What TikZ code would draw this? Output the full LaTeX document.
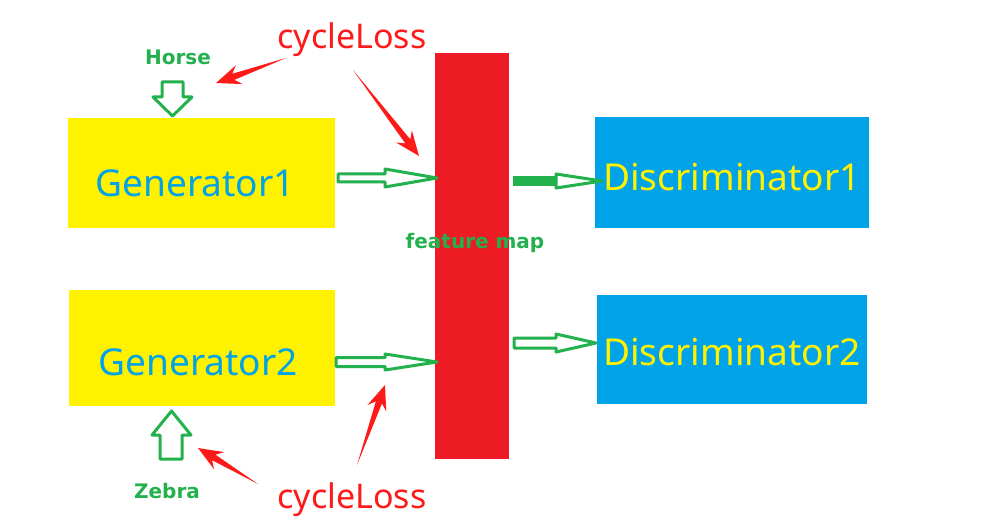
\documentclass[tikz,border=0pt]{standalone}
\usepackage{fontspec}
\setmainfont{Noto Sans}
\newfontfamily\labfont{DejaVu Sans}
\usetikzlibrary{calc}
\definecolor{pgreen}{HTML}{22B14C}
\definecolor{pyellow}{HTML}{FFF200}
\definecolor{pblue}{HTML}{00A2E8}
\definecolor{pred}{HTML}{ED1C24}
\definecolor{lred}{HTML}{FF1A1A}
\newcommand\redarrow[2]{\fill[lred] (#1) -- ($(#2)!14pt!10:(#1)$) -- ($(#2)!20pt!22:(#1)$) -- (#2) -- ($(#2)!20pt!-22:(#1)$) -- ($(#2)!14pt!-10:(#1)$) -- cycle;}
\newcommand\harrow[6]{\filldraw[garrow] (#1,#3-#5) -- (#4,#3-#5) -- (#4,#3-#6) -- (#2,#3) -- (#4,#3+#6) -- (#4,#3+#5) -- (#1,#3+#5) -- cycle;}
\tikzset{
  garrow/.style={draw=pgreen, fill=white, line width=2.25pt, line join=round},
  genbox/.style={fill=pyellow, draw=none, inner sep=0pt},
  disbox/.style={fill=pblue, draw=none, inner sep=0pt},
  gtext/.style={text=pblue, font=\fontsize{27.8}{32}\selectfont, inner sep=0pt},
  dtext/.style={text=pyellow, font=\fontsize{27.8}{32}\selectfont, inner sep=0pt},
  ltext/.style={text=pgreen, font=\labfont\bfseries\fontsize{15}{18}\selectfont, inner sep=0pt},
  ctext/.style={text=lred, font=\fontsize{25.5}{30}\selectfont, inner sep=0pt},
}
\begin{document}
\begin{tikzpicture}[x=0.75pt,y=-0.75pt]
\useasboundingbox (0,0) rectangle (983,528);
\fill[white] (0,0) rectangle (983,528);
% boxes
\node[genbox, minimum width={267*0.75pt}, minimum height={110*0.75pt}] (g1) at (201.5,173) {};
\node[genbox, minimum width={266*0.75pt}, minimum height={116*0.75pt}] (g2) at (202,348) {};
\node[disbox, minimum width={274*0.75pt}, minimum height={111*0.75pt}] (d1) at (732,172.5) {};
\node[disbox, minimum width={270*0.75pt}, minimum height={109*0.75pt}] (d2) at (732,349.5) {};
\node[fill=pred, inner sep=0pt, minimum width={74*0.75pt}, minimum height={406*0.75pt}] (bar) at (472,256) {};
% texts
\node[gtext] (g1t) at (195,183) {Generator1};
\node[gtext] (g2t) at (198,362) {Generator2};
\node[dtext] (d1t) at (732,177) {Discriminator1};
\node[dtext] (d2t) at (732,352) {Discriminator2};
\node[ltext] (fm) at (475,243) {feature map};
\node[ltext] (horse) at (178,57) {Horse};
\node[ltext] (zebra) at (167,491) {Zebra};
\node[ctext] (cl1) at (352,40) {cycleLoss};
\node[ctext] (cl2) at (352,500) {cycleLoss};
% green arrows
\harrow{338}{437}{178}{385}{4}{9}
\harrow{336}{437}{362}{385}{4.5}{8}
\harrow{514}{596}{343}{556}{5}{9}
\fill[pgreen] (513,176) rectangle (556,186);
\filldraw[garrow] (556,174) -- (602,181) -- (556,188) -- cycle;
\filldraw[garrow] (162,82) -- (183,82) -- (183,97) -- (192,97) -- (172.5,116) -- (153,97) -- (162,97) -- cycle;
\filldraw[garrow] (160,459) -- (182,459) -- (182,435) -- (191,435) -- (171.5,411) -- (152,435) -- (160,435) -- cycle;
% red arrows
\coordinate (a1) at (286,58); \coordinate (b1) at (216,83);
\coordinate (a2) at (353,70); \coordinate (b2) at (419,156);
\coordinate (a3) at (258,484); \coordinate (b3) at (198,448);
\coordinate (a4) at (357,465); \coordinate (b4) at (385,385);
\redarrow{a1}{b1}
\redarrow{a2}{b2}
\redarrow{a3}{b3}
\redarrow{a4}{b4}
\end{tikzpicture}
\end{document}
